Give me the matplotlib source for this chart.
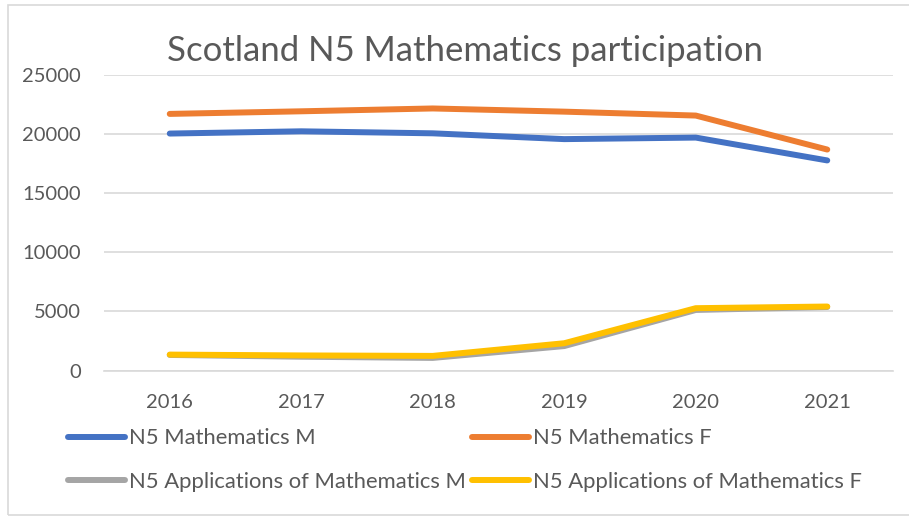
import matplotlib.pyplot as plt
from matplotlib.patches import Rectangle

plt.rcParams['font.family'] = ['Lato', 'DejaVu Sans']

# Дані
years = ['2016', '2017', '2018', '2019', '2020', '2021']
maths_m = [20030, 20220, 20050, 19560, 19690, 17760]
maths_f = [21690, 21910, 22150, 21880, 21550, 18680]
apps_m = [1330, 1180, 1080, 2080, 5130, 5380]
apps_f = [1360, 1290, 1250, 2320, 5280, 5420]

series = [
    ('N5 Mathematics M', maths_m, '#4472C4'),
    ('N5 Mathematics F', maths_f, '#ED7D31'),
    ('N5 Applications of Mathematics M', apps_m, '#A5A5A5'),
    ('N5 Applications of Mathematics F', apps_f, '#FFC000'),
]

grid_c = '#d9d9d9'
text_c = '#595959'

fig = plt.figure(figsize=(9.09, 5.16), dpi=100)
ax = fig.add_axes([0.1144, 0.2816, 0.868, 0.5736])

x = range(len(years))
lines = []
for name, vals, col in series:
    ln, = ax.plot(x, vals, color=col, linewidth=4.3, solid_capstyle='round',
                  solid_joinstyle='round', label=name)
    lines.append(ln)

ax.set_xlim(-0.5, len(years) - 0.5)
ax.set_ylim(0, 25000)
ax.set_yticks(range(0, 25001, 5000))
ax.set_xticks(list(x))
ax.set_xticklabels(years)
ax.yaxis.grid(True, color=grid_c, linewidth=1.2)
ax.set_axisbelow(True)
for s in ['top', 'right', 'left']:
    ax.spines[s].set_visible(False)
ax.spines['bottom'].set_color(grid_c)
ax.spines['bottom'].set_linewidth(1.2)
ax.tick_params(axis='both', length=0, labelsize=14.5, colors=text_c)
ax.tick_params(axis='y', pad=16.5)
ax.tick_params(axis='x', pad=17)

fig.text(0.512, 0.902, 'Scotland N5 Mathematics participation', ha='center',
         va='center', fontsize=25, color=text_c)

# порядок по рядках, як у Excel
order = [0, 2, 1, 3]
fig.legend([lines[i] for i in order], [series[i][0] for i in order],
           loc='upper left', bbox_to_anchor=(0.0748, 0.1696), ncol=2,
           frameon=False, fontsize=15.8, labelcolor=text_c, handlelength=2.6,
           handletextpad=0.18, columnspacing=0.27, labelspacing=1.05,
           borderaxespad=0, borderpad=0)

fig.patches.append(Rectangle((8 / 909, 1 / 516), 1, 510 / 516,
                             transform=fig.transFigure, fill=False,
                             edgecolor=grid_c, linewidth=1.2))

fig.savefig('out.png', dpi=100)
